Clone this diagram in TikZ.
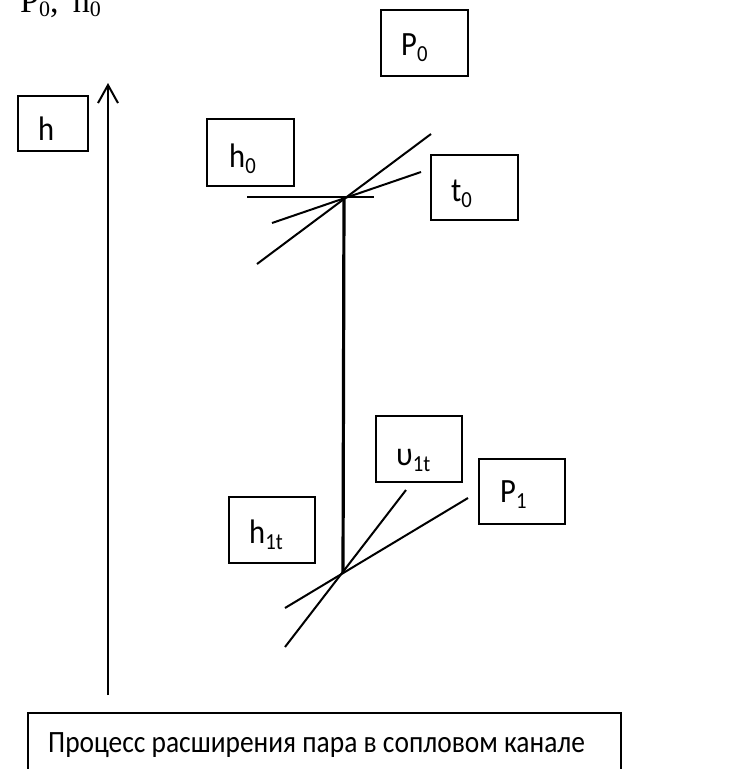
\documentclass[tikz,border=0pt]{standalone}
\usepackage{fontspec}
\setmainfont{Carlito}
\newfontfamily\seriffont{Liberation Serif}
\usetikzlibrary{arrows.meta}
% lowered, smaller subscript in the label font
\newcommand{\lowsub}[1]{\raisebox{-6pt}{\fontsize{23}{23}\selectfont #1}}
% narrow, tall lettering
\newcommand{\narrow}[1]{\scalebox{0.9}[1]{#1}}
\tikzset{
  box/.style={draw, line width=1.8pt, minimum width=#1, inner sep=0pt},
  lbl/.style={inner sep=0pt, anchor=base west, font=\fontsize{34}{34}\selectfont},
  thin line/.style={line width=2pt},
  isobar/.style={line width=3.2pt},
}
\begin{document}
\begin{tikzpicture}[x=1pt, y=-1pt]
\useasboundingbox (0,0) rectangle (729,769);
\clip (0,0) rectangle (729,769);

% title in serif, partly cut by the top edge
\node[inner sep=0pt, anchor=base west, font=\seriffont\fontsize{34}{34}\selectfont] (title) at (20,12)
  {P\raisebox{-4pt}{\fontsize{22}{22}\selectfont 0}, \,h\raisebox{-4pt}{\fontsize{22}{22}\selectfont 0}};

% axis h
\coordinate (axbot) at (108,695);
\coordinate (axtop) at (108,83);
\draw[line width=2pt, -{Straight Barb[length=18pt, width=20pt, line width=2pt]}] (axbot) -- (axtop);

% label boxes
\node[box=87pt, minimum height=66pt] (bP0) at (424.5,43) {};
\node[lbl] (tP0) at (401,55) {\narrow{P\lowsub{0}}};

\node[box=70pt, minimum height=55pt] (bh) at (53,123.5) {};
\node[lbl] (th) at (38,140) {\narrow{h}};

\node[box=87pt, minimum height=67pt] (bh0) at (250.5,152.5) {};
\node[lbl] (th0) at (229,167) {\narrow{h\lowsub{0}}};

\node[box=87pt, minimum height=65pt] (bt0) at (474.5,187.5) {};
\node[lbl] (tt0) at (451,201) {\narrow{t\lowsub{0}}};

\node[box=86pt, minimum height=66pt] (bh1t) at (272,530) {};
\node[lbl] (th1t) at (249,543) {\narrow{h\lowsub{1t}}};

\node[box=86pt, minimum height=66pt] (bu1t) at (419,449) {};
\node[lbl] (tu1t) at (396,465) {\narrow{υ\lowsub{1t}}};

\node[box=86pt, minimum height=65pt] (bP1) at (522,491.5) {};
\node[lbl] (tP1) at (500,502) {\narrow{P\lowsub{1}}};

% caption box, running past the lower edge
\node[draw, line width=1.8pt, minimum width=593pt, minimum height=80pt, inner sep=0pt, anchor=north west] (cap) at (27,712) {};
\node[lbl, font=\fontsize{31}{31}\selectfont] (capt) at (48,752) {\scalebox{0.885}[1]{Процесс расширения пара в сопловом канале}};

% initial state point
\coordinate (s0) at (344,197);
\coordinate (hl) at (247,197);
\coordinate (hr) at (374,197);
\coordinate (a1) at (257,264);
\coordinate (a2) at (431,134);
\coordinate (b1) at (272,223);
\coordinate (b2) at (421,172);
\draw[thin line] (hl) -- (hr);
\draw[thin line] (a1) -- (a2);
\draw[thin line] (b1) -- (b2);

% end state point
\coordinate (s1) at (343,573);
\coordinate (c1) at (285,647);
\coordinate (c2) at (406,490);
\coordinate (d1) at (285,608);
\coordinate (d2) at (468,498);
\draw[thin line] (c1) -- (c2);
\draw[thin line] (d1) -- (d2);

% isentropic expansion
\draw[isobar] (s0) -- (s1);
\end{tikzpicture}
\end{document}
